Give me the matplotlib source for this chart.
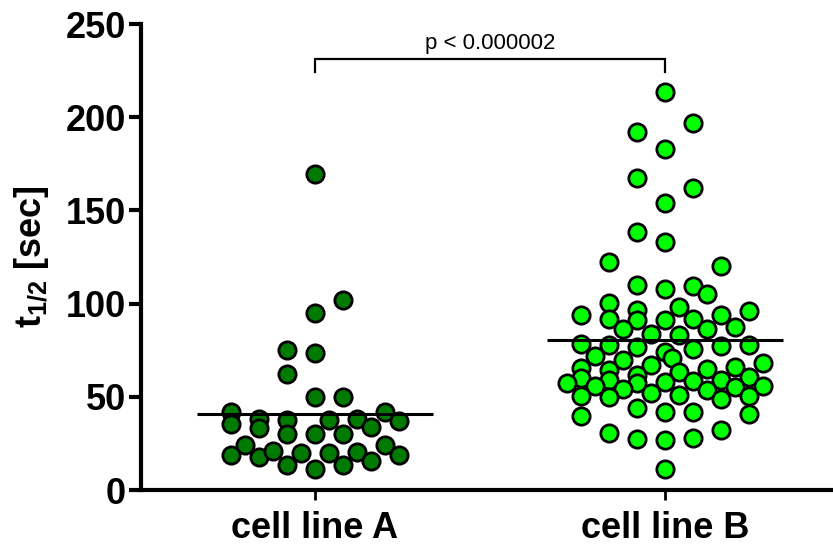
import numpy as np
import matplotlib
matplotlib.use('Agg')
import matplotlib.pyplot as plt

plt.rcParams['font.family'] = 'Liberation Sans'
plt.rcParams['font.weight'] = 'bold'
plt.rcParams['axes.labelweight'] = 'bold'
plt.rcParams['mathtext.fontset'] = 'custom'
plt.rcParams['mathtext.rm'] = 'Liberation Sans:bold'
plt.rcParams['mathtext.it'] = 'Liberation Sans:bold'
plt.rcParams['mathtext.bf'] = 'Liberation Sans:bold'

groups = ['cell line A', 'cell line B']
colors = ['#007a00', '#00ff00']

# half-life values (sec) and column slot in the dot plot
a_vals = [169.5, 101.9, 95.1, 75.1, 73.3, 62.2, 50.1, 50.1,
          42.0, 35.6, 38.0, 33.1, 37.8, 30.0, 30.0, 37.6, 30.0, 38.2, 34.0, 42.0, 36.8,
          19.0, 24.3, 17.6, 21.0, 13.4, 20.1, 11.2, 20.1, 13.4, 20.4, 15.6, 24.1, 18.8]
a_cols = [0, 2, 0, -2, 0, -2, 0, 2,
          -6, -6, -4, -4, -2, -2, 0, 1, 2, 3, 4, 5, 6,
          -6, -5, -4, -3, -2, -1, 0, 1, 2, 3, 4, 5, 6]

b_vals = [213.3, 196.7, 192.2, 182.8, 167.6, 162.2, 154.1, 138.6, 133.2, 122.5, 120.3,
          110.2, 108.0, 109.5, 105.3,
          100.3, 93.9, 91.9, 96.4, 91.0, 86.2, 91.2, 98.3, 91.7, 86.2, 93.7, 87.6, 95.8,
          83.9, 82.9,
          78.3, 77.8, 76.8, 75.8, 77.1, 77.8, 74.2,
          71.9, 70.6, 69.7, 67.1, 68.0,
          65.3, 64.2, 64.9, 66.0, 63.2, 61.7,
          60.2, 59.2, 57.6, 59.2, 60.5,
          57.2, 55.9, 54.1, 57.9, 58.6, 53.5, 55.1, 56.0,
          52.2, 50.8, 50.4, 50.1, 49.0, 50.2,
          39.9, 44.2, 42.0, 42.0, 40.8,
          30.4, 27.4, 26.8, 27.7, 32.2, 11.3]
b_cols = [0, 2, -2, 0, -2, 2, 0, -2, 0, -4, 4,
          -2, 0, 2, 3,
          -4, -6, -4, -2, -2, -3, 0, 1, 2, 3, 4, 5, 6,
          -1, 1,
          -6, -4, -2, 2, 4, 6, 0,
          -5, 0.5, -3, -1, 7,
          -6, -4, 3, 5, 1, -2,
          -6, -4, -2, 4, 6,
          -7, -5, -3, 0, 2, 3, 5, 7,
          -1, 1, -6, -4, 4, 6,
          -6, -2, 0, 2, 6,
          -4, -2, 0, 2, 4, 0]

p_text = 'p < 0.000002'

fig = plt.figure(figsize=(8.33, 5.48), dpi=100)
ax = fig.add_axes([0.1693, 0.1058, 0.8307, 0.8504])

col_step = 0.04
for i, (vals, cols) in enumerate([(a_vals, a_cols), (b_vals, b_cols)]):
    pos = i + 1
    x = pos + np.array(cols) * col_step
    ax.scatter(x, vals, s=155, c=colors[i], edgecolors='black',
               linewidths=2.0, zorder=3, clip_on=False)
    ax.hlines(np.mean(vals), pos - 0.336, pos + 0.336, colors='black',
              lw=2.2, zorder=4)

# significance bracket
ax.plot([1, 1, 2, 2], [224, 231, 231, 224], color='black', lw=1.6,
        solid_joinstyle='miter')
ax.text(1.5, 234, p_text, ha='center', va='bottom', fontsize=16,
        fontweight='normal')

ax.set_xlim(0.503, 2.48)
ax.set_ylim(0, 250)
ax.set_yticks(np.arange(0, 251, 50))
ax.set_xticks([1, 2])
ax.set_xticklabels(groups)
ax.tick_params(axis='y', length=9, width=3, labelsize=26, pad=2)
ax.tick_params(axis='x', length=7, width=2, labelsize=26, pad=8)
ax.set_ylabel(r'$\mathrm{t_{1/2}}$ [sec]', fontsize=26, fontweight='bold',
              labelpad=10)

for s in ['top', 'right']:
    ax.spines[s].set_visible(False)
for s in ['left', 'bottom']:
    ax.spines[s].set_linewidth(3)

fig.savefig('out.png', dpi=100)
